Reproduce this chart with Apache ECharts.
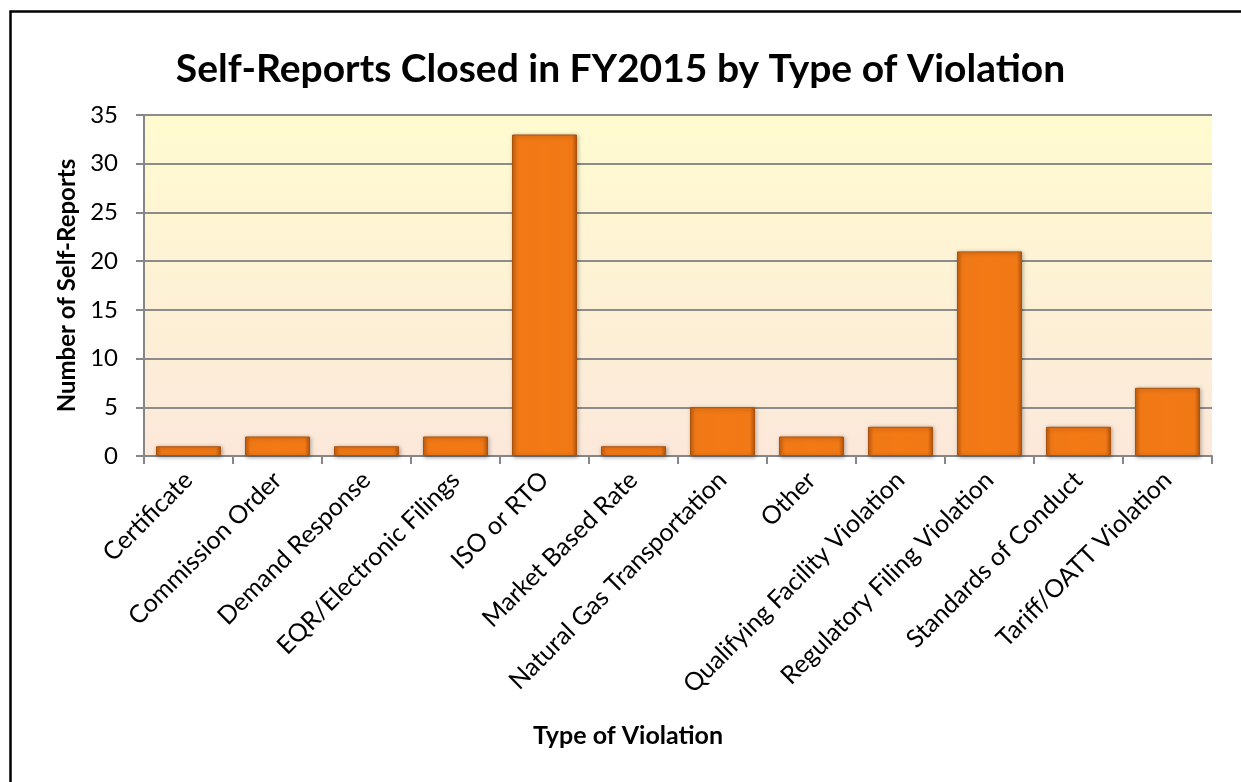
<!DOCTYPE html>
<html>
<head>
<meta charset="utf-8">
<script src="https://cdn.jsdelivr.net/npm/echarts@6/dist/echarts.min.js"></script>
<style>
  html, body { margin: 0; padding: 0; background: #fff; }
  #chart { width: 1241px; height: 782px; }
</style>
</head>
<body>
<div id="chart"></div>
<script>
var myChart = echarts.init(document.getElementById('chart'));

var categories = [
    'Certificate', 'Commission Order', 'Demand Response', 'EQR/Electronic Filings',
    'ISO or RTO', 'Market Based Rate', 'Natural Gas Transportation', 'Other',
    'Qualifying Facility Violation', 'Regulatory Filing Violation',
    'Standards of Conduct', 'Tariff/OATT Violation'
];
var selfReports = [1, 2, 1, 2, 33, 1, 5, 2, 3, 21, 3, 7];

var font = 'Lato, Calibri, "Open Sans", sans-serif';

// bevelled orange look
var barFill = new echarts.graphic.LinearGradient(0, 0, 1, 0, [
    {offset: 0, color: '#C9600E'},
    {offset: 0.08, color: '#F07816'},
    {offset: 0.5, color: '#F27914'},
    {offset: 0.92, color: '#F07816'},
    {offset: 1, color: '#B8570C'}
]);

option = {
    backgroundColor: '#ffffff',
    textStyle: {fontFamily: font},
    title: {
        text: 'Self-Reports Closed in FY2015 by Type of Violation',
        left: 'center',
        top: 45,
        textStyle: {fontFamily: font, fontSize: 39, fontWeight: 'bold', color: '#000'}
    },
    graphic: [{
        type: 'rect',
        left: 8, top: 9,
        shape: {width: 1300, height: 900},
        style: {fill: 'none', stroke: '#000', lineWidth: 2.5},
        silent: true
    }],
    grid: {
        left: 144, right: 29, top: 115, bottom: 326,
        show: true,
        borderWidth: 0,
        backgroundColor: new echarts.graphic.LinearGradient(0, 0, 0, 1, [
            {offset: 0, color: '#FFFBD0'},
            {offset: 1, color: '#FCE8DA'}
        ])
    },
    xAxis: {
        type: 'category',
        data: categories,
        name: 'Type of Violation',
        nameLocation: 'middle',
        nameGap: 267,
        nameTextStyle: {
            fontFamily: font, fontSize: 25, fontWeight: 'bold', color: '#000',
            padding: [0, 100, 0, 0]
        },
        axisLine: {lineStyle: {color: '#868686', width: 2}},
        axisTick: {show: true, length: 8, lineStyle: {color: '#868686', width: 2}},
        axisLabel: {
            rotate: 45,
            interval: 0,
            margin: 20,
            fontSize: 25,
            color: '#000',
            fontFamily: font
        }
    },
    yAxis: {
        type: 'value',
        min: 0, max: 35, interval: 5,
        name: 'Number of Self-Reports',
        nameLocation: 'middle',
        nameGap: 64,
        nameRotate: 90,
        nameTextStyle: {fontFamily: font, fontSize: 24, fontWeight: 'bold', color: '#000'},
        axisLine: {show: true, lineStyle: {color: '#868686', width: 2}},
        axisTick: {show: true, length: 8, lineStyle: {color: '#868686', width: 2}},
        axisLabel: {fontSize: 24, color: '#000', margin: 26, fontFamily: font},
        splitLine: {lineStyle: {color: '#8C8C8C', width: 2}}
    },
    series: [{
        name: 'Self-Reports',
        type: 'bar',
        data: selfReports,
        barCategoryGap: '27%',
        itemStyle: {
            color: barFill,
            borderColor: '#A9520C',
            borderWidth: 1,
            shadowBlur: 4,
            shadowColor: 'rgba(0,0,0,0.35)',
            shadowOffsetX: 1,
            shadowOffsetY: 1
        },
        animation: false
    }]
};

myChart.setOption(option);
</script>
</body>
</html>
